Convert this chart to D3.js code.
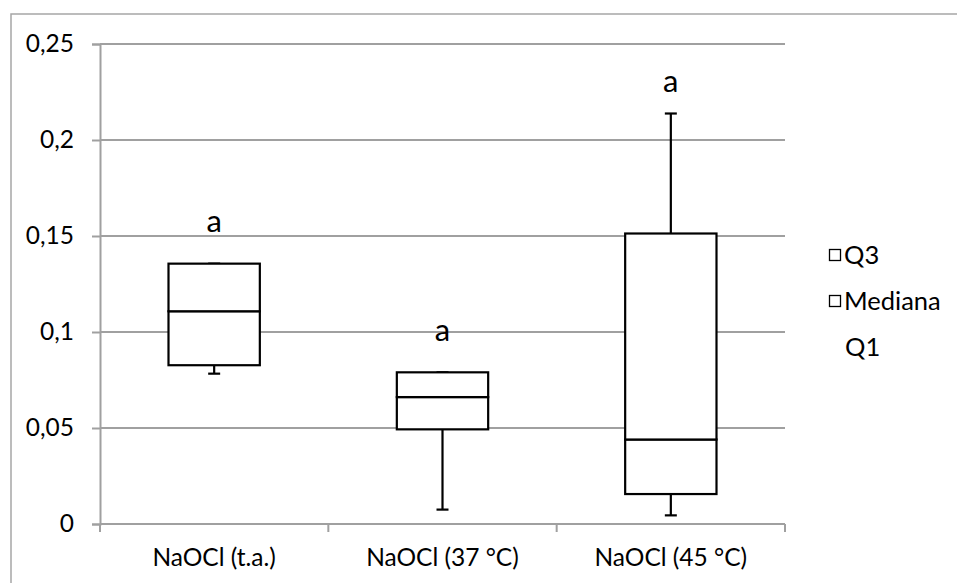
<!DOCTYPE html>
<html>
<head>
<meta charset="utf-8">
<script src="https://cdn.jsdelivr.net/npm/d3@7"></script>
<style>
  body { margin: 0; background: #fff; }
  text { font-family: Lato, "Open Sans", sans-serif; fill: #000; }
</style>
</head>
<body>
<svg></svg>
<script>
// data
const categories = ["NaOCl (t.a.)", "NaOCl (37 °C)", "NaOCl (45 °C)"];
const minVals = [0.0783, 0.0075, 0.0045];
const q1Vals = [0.0827, 0.0493, 0.0156];
const medianVals = [0.1108, 0.0661, 0.0440];
const q3Vals = [0.1356, 0.0790, 0.1513];
const maxVals = [0.1356, 0.0790, 0.2138];
const letters = ["a", "a", "a"];
const letterPos = [0.1566, 0.0999, 0.2295];
const yTicks = [0, 0.05, 0.1, 0.15, 0.2, 0.25];
const legendLabels = ["Q3", "Mediana", "Q1"];

const width = 957, height = 583;
const plot = {left: 100, right: 785, top: 44, bottom: 524};

const svg = d3.select('svg')
    .attr('width', width)
    .attr('height', height);

// chart border (only top/left visible, rest cropped)
svg.append('rect')
    .attr('x', 11)
    .attr('y', 14)
    .attr('width', 960)
    .attr('height', 600)
    .attr('fill', 'none')
    .attr('stroke', '#a6a6a6')
    .attr('stroke-width', 1.5);

const x = d3.scaleBand()
    .domain(categories)
    .range([plot.left, plot.right])
    .paddingInner(0.6)
    .paddingOuter(0.3);

const y = d3.scaleLinear()
    .domain([0, 0.25])
    .range([plot.bottom, plot.top]);

const fmt = d => String(d).replace('.', ',');

// gridlines
svg.append('g')
    .selectAll('line')
    .data(yTicks.slice(1))
    .join('line')
    .attr('x1', plot.left)
    .attr('x2', plot.right)
    .attr('y1', d => y(d))
    .attr('y2', d => y(d))
    .attr('stroke', '#a0a0a0')
    .attr('stroke-width', 2);

// y axis
const yAxis = svg.append('g')
    .attr('transform', `translate(${plot.left},0)`)
    .call(d3.axisLeft(y).tickValues(yTicks).tickFormat(fmt).tickSize(8).tickPadding(18));
yAxis.select('.domain').attr('stroke', '#a0a0a0').attr('stroke-width', 2);
yAxis.selectAll('.tick line').attr('stroke', '#a0a0a0').attr('stroke-width', 2);
yAxis.selectAll('.tick text')
    .style('font-family', 'Lato, sans-serif')
    .style('font-size', '24.5px')
    .attr('fill', '#000');

// x axis line + boundary ticks
const step = x.step();
const bounds = d3.range(categories.length + 1).map(i => plot.left + i * step);
svg.append('line')
    .attr('x1', plot.left)
    .attr('x2', plot.right)
    .attr('y1', y(0))
    .attr('y2', y(0))
    .attr('stroke', '#a0a0a0')
    .attr('stroke-width', 2);
svg.append('g')
    .selectAll('line')
    .data(bounds)
    .join('line')
    .attr('x1', d => d)
    .attr('x2', d => d)
    .attr('y1', y(0))
    .attr('y2', y(0) + 8)
    .attr('stroke', '#a0a0a0')
    .attr('stroke-width', 2);

svg.append('g')
    .selectAll('text')
    .data(categories)
    .join('text')
    .attr('x', d => x(d) + x.bandwidth() / 2)
    .attr('y', 566)
    .attr('text-anchor', 'middle')
    .style('font-size', '24.5px')
    .text(d => d);

// boxes
const boxes = svg.append('g');
categories.forEach((c, i) => {
    const x0 = x(c), bw = x.bandwidth(), cx = x0 + bw / 2, cap = 6;
    const g = boxes.append('g')
        .attr('stroke', '#000')
        .attr('stroke-width', 2.2)
        .attr('fill', 'none');
    // whiskers
    g.append('line').attr('x1', cx).attr('x2', cx).attr('y1', y(q1Vals[i])).attr('y2', y(minVals[i]));
    g.append('line').attr('x1', cx - cap).attr('x2', cx + cap).attr('y1', y(minVals[i])).attr('y2', y(minVals[i]));
    g.append('line').attr('x1', cx).attr('x2', cx).attr('y1', y(q3Vals[i])).attr('y2', y(maxVals[i]));
    g.append('line').attr('x1', cx - cap).attr('x2', cx + cap).attr('y1', y(maxVals[i])).attr('y2', y(maxVals[i]));
    // box halves
    g.append('rect')
        .attr('x', x0).attr('width', bw)
        .attr('y', y(medianVals[i])).attr('height', y(q1Vals[i]) - y(medianVals[i]))
        .attr('fill', '#fff');
    g.append('rect')
        .attr('x', x0).attr('width', bw)
        .attr('y', y(q3Vals[i])).attr('height', y(medianVals[i]) - y(q3Vals[i]))
        .attr('fill', '#fff');
    svg.append('text')
        .attr('x', cx)
        .attr('y', y(letterPos[i]))
        .attr('dy', '0.28em')
        .attr('text-anchor', 'middle')
        .style('font-size', '31px')
        .text(letters[i]);
});

// legend
const legend = svg.append('g');
legendLabels.forEach((l, i) => {
    const ly = 255 + i * 46;
    if (i < 2) {
        legend.append('rect')
            .attr('x', 829.5).attr('y', ly - 5.5)
            .attr('width', 11).attr('height', 11)
            .attr('fill', '#fff')
            .attr('stroke', '#000')
            .attr('stroke-width', 1.3);
    }
    legend.append('text')
        .attr('x', i < 2 ? 844 : 845)
        .attr('y', ly)
        .attr('dy', '0.36em')
        .style('font-size', '25.5px')
        .text(l);
});
</script>
</body>
</html>
